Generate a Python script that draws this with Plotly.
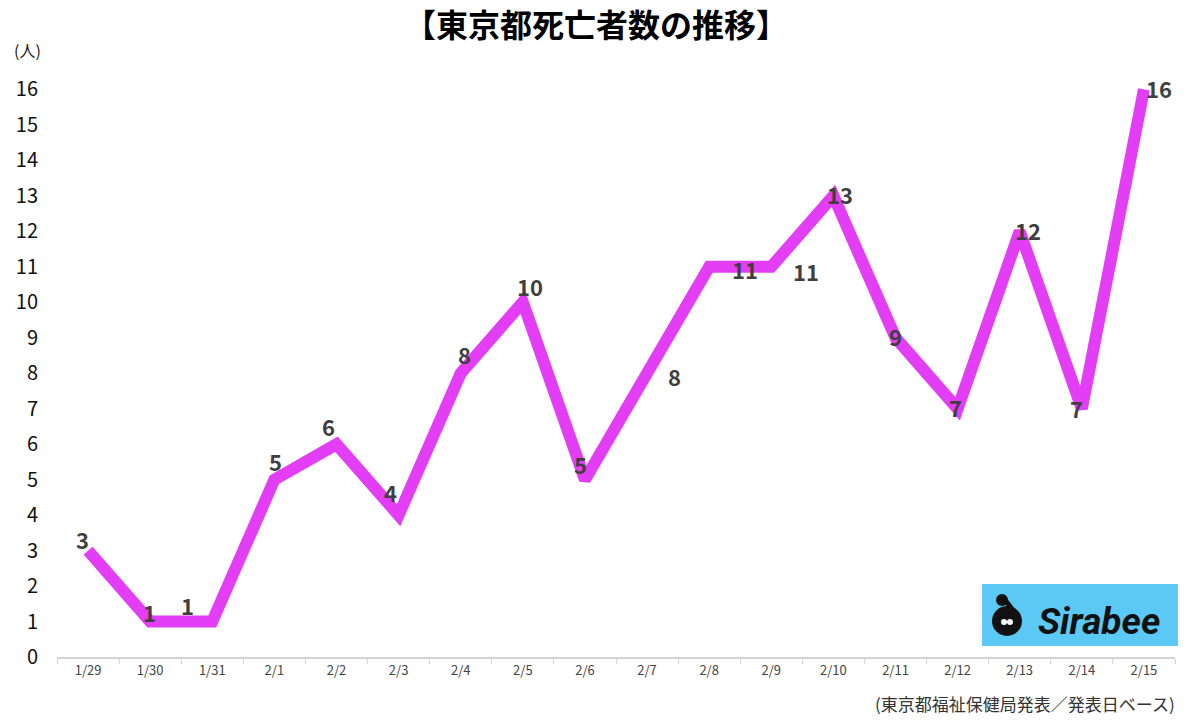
import plotly.graph_objects as go

categories = ["1/29", "1/30", "1/31", "2/1", "2/2", "2/3", "2/4", "2/5", "2/6",
              "2/7", "2/8", "2/9", "2/10", "2/11", "2/12", "2/13", "2/14", "2/15"]
deaths = [3, 1, 1, 5, 6, 4, 8, 10, 5, 8, 11, 11, 13, 9, 7, 12, 7, 16]
y_ticks = list(range(0, 17))

# label offsets in pixels (x shift, y shift)
label_dx = [-6, -1, -25, 1, -8, -8, 4, 7, -4, 27, 36, 35, 7, 0, -2, 8, -5, 15]
label_dy = [12, 10, 17, 19, 18, 23, 19, 16, 16, -3, -2, -4, 2, 2, 2, 1, 1, 1]

W, H = 1200, 723
ML, MR, MT, MB = 57, 25, 54, 66
PW, PH = W - ML - MR, H - MT - MB

def px(x):
    return (x - ML) / PW

def py(y):
    return (H - MB - y) / PH

FONT = "Noto Sans CJK JP"

fig = go.Figure()
fig.add_trace(go.Scatter(
    x=categories, y=deaths, mode="lines",
    line=dict(color="#E43DF6", width=12),
    hoverinfo="skip", showlegend=False,
))

annotations = []
for c, v, dx, dy in zip(categories, deaths, label_dx, label_dy):
    annotations.append(dict(
        x=c, y=v, xref="x", yref="y", text=str(v), showarrow=False,
        xshift=dx, yshift=dy,
        font=dict(family=FONT, size=22, color="#3f3f3f", weight=600),
    ))

annotations += [
    dict(x=px(596), y=py(23), xref="paper", yref="paper", xanchor="center", yanchor="middle",
         text="【東京都死亡者数の推移】", showarrow=False,
         font=dict(family=FONT, size=32, color="#000000", weight="bold")),
    dict(x=px(12), y=py(50), xref="paper", yref="paper", xanchor="left", yanchor="middle",
         text="(人)", showarrow=False,
         font=dict(family=FONT, size=16, color="#222222")),
    dict(x=px(1177), y=py(703), xref="paper", yref="paper", xanchor="right", yanchor="middle",
         text="(東京都福祉保健局発表／発表日ベース)", showarrow=False,
         font=dict(family=FONT, size=17, color="#333333")),
    dict(x=px(1099), y=py(621), xref="paper", yref="paper", xanchor="center", yanchor="middle",
         text="<b><i>Sirabee</i></b>", showarrow=False,
         font=dict(family="Roboto", size=37, color="#111111")),
]

shapes = [
    dict(type="rect", xref="paper", yref="paper",
         x0=px(982), x1=px(1178), y0=py(646), y1=py(584),
         fillcolor="#5BC8F5", line=dict(width=0), layer="above"),
    dict(type="circle", xref="paper", yref="paper",
         x0=px(992), x1=px(1022), y0=py(636), y1=py(606),
         fillcolor="#111111", line=dict(width=0), layer="above"),
    dict(type="circle", xref="paper", yref="paper",
         x0=px(996), x1=px(1008), y0=py(606), y1=py(594),
         fillcolor="#111111", line=dict(width=0), layer="above"),
    dict(type="line", xref="paper", yref="paper",
         x0=px(1005), x1=px(1012), y0=py(600), y1=py(609),
         line=dict(color="#111111", width=5), layer="above"),
    dict(type="circle", xref="paper", yref="paper",
         x0=px(1001), x1=px(1007), y0=py(625), y1=py(619),
         fillcolor="#ffffff", line=dict(width=0), layer="above"),
    dict(type="circle", xref="paper", yref="paper",
         x0=px(1007), x1=px(1013), y0=py(625), y1=py(619),
         fillcolor="#ffffff", line=dict(width=0), layer="above"),
]

fig.update_layout(
    width=W, height=H,
    margin=dict(l=ML, r=MR, t=MT, b=MB),
    paper_bgcolor="#ffffff", plot_bgcolor="#ffffff",
    annotations=annotations, shapes=shapes,
    xaxis=dict(
        type="category", range=[-0.5, 17.5], showgrid=False, zeroline=False,
        showline=True, linecolor="#d3d3d3", linewidth=2,
        ticks="outside", tickson="boundaries", ticklen=5, tickcolor="#d3d3d3",
        tickfont=dict(family=FONT, size=13, color="#444444"),
    ),
    yaxis=dict(
        range=[0, 17], tickvals=y_ticks, showgrid=False, zeroline=False,
        showline=False, ticks="", ticklabelstandoff=18,
        tickfont=dict(family=FONT, size=20, color="#111111"),
    ),
)

fig.write_html("out.html")
